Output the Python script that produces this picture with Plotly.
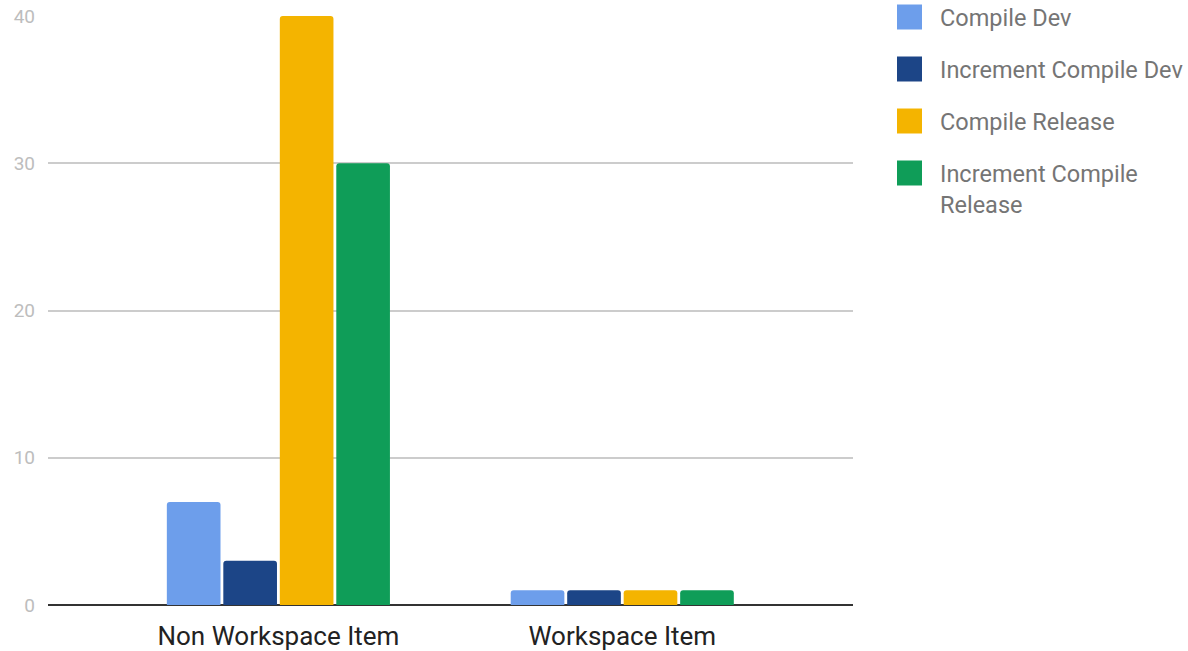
import plotly.graph_objects as go

categories = ["Non Workspace Item", "Workspace Item"]
series_names = ["Compile Dev", "Increment Compile Dev", "Compile Release", "Increment Compile<br>Release"]
series_values = [
    [7, 1],
    [3, 1],
    [40, 1],
    [30, 1],
]
colors = ["#6d9eeb", "#1c4587", "#f4b400", "#0f9d58"]
y_ticks = [0, 10, 20, 30, 40]

L, R, T, B = 48, 853, 16, 605
W, H = 1188, 651

fig = go.Figure()
for name, vals, col in zip(series_names, series_values, colors):
    fig.add_trace(go.Bar(
        x=categories, y=vals, name=name,
        marker=dict(color=col, cornerradius=3, line=dict(width=0)),
        showlegend=False,
    ))

# custom legend (large rounded squares + labels)
def px_x(p):
    return (p - L) / (R - L)

def px_y(p):
    return (B - p) / (B - T)

shapes = []
annotations = []
for i, (name, col) in enumerate(zip(series_names, colors)):
    cy = 17 + 52 * i
    shapes.append(dict(
        type="rect", xref="paper", yref="paper",
        x0=px_x(897), x1=px_x(922), y0=px_y(cy + 12.5), y1=px_y(cy - 12.5),
        fillcolor=col, line=dict(width=0), layer="above",
    ))
    annotations.append(dict(
        xref="paper", yref="paper", x=px_x(938), y=px_y(cy - 15),
        xanchor="left", yanchor="top",
        text=name, showarrow=False, align="left",
        font=dict(family="Roboto", size=23.5, color="#757575"),
    ))

fig.update_layout(
    width=W, height=H,
    margin=dict(l=L, r=W - R, t=T, b=H - B, autoexpand=False),
    paper_bgcolor="white", plot_bgcolor="white",
    font=dict(family="Roboto", size=22, color="#222"),
    barmode="group", bargap=0.343, bargroupgap=0.05,
    showlegend=False,
    shapes=shapes,
    annotations=annotations,
    xaxis=dict(
        type="category", range=[-0.67, 1.671],
        showgrid=False, ticks="", showline=False,
        tickfont=dict(family="Roboto", size=26, color="#222"),
        ticklabelstandoff=13,
    ),
    yaxis=dict(
        range=[0, 40], tickvals=y_ticks,
        showgrid=True, gridcolor="#cccccc", gridwidth=1.5,
        zeroline=True, zerolinecolor="#333333", zerolinewidth=2,
        tickfont=dict(family="Roboto", size=19, color="#bdbdbd"),
        ticks="", ticklabelstandoff=12, showline=False,
    ),
)

fig.write_html("out.html")
